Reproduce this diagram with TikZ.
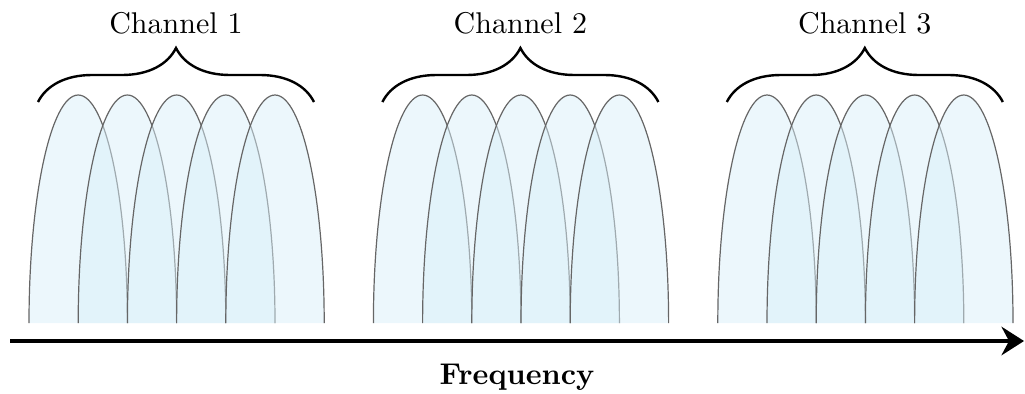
\documentclass[tikz,border=0pt]{standalone}
\usetikzlibrary{decorations.pathreplacing,arrows.meta}
\begin{document}
\begin{tikzpicture}[x=0.3333pt,y=0.3333pt,
  carrier/.style={fill={rgb,255:red,217;green,239;blue,249}, fill opacity=0.5,
                  draw=black!60, line width=0.4pt},
  chbrace/.style={decorate, decoration={brace, amplitude=18pt}, line width=0.8pt},
  axis/.style={line width=1.3pt, -{Stealth[length=7.5pt,width=9.5pt,inset=2.5pt]}},
  chlabel/.style={anchor=base},
]
\useasboundingbox (0,0) rectangle (1025,393);

% three channels, each made of five overlapping subcarriers
\foreach \k/\off in {1/29, 2/373.4, 3/717.8} {
  \foreach \i in {1,...,5} {
    \filldraw[carrier] ({\off+49.2*(\i-1)},70)
      arc[start angle=180, end angle=0, x radius=49.2, y radius=228];
  }
  \coordinate (b\k l) at ({\off+9},291);
  \coordinate (b\k r) at ({\off+285},291);
  \draw[chbrace] (b\k l) -- (b\k r);
  \node[chlabel] (ch\k) at ({\off+147},360) {Channel \k};
}

% frequency axis
\coordinate (fstart) at (10,52);
\coordinate (fend) at (1024,52);
\draw[axis] (fstart) -- (fend);
\node[anchor=base] (freq) at (517,9) {\textbf{Frequency}};
\end{tikzpicture}
\end{document}
